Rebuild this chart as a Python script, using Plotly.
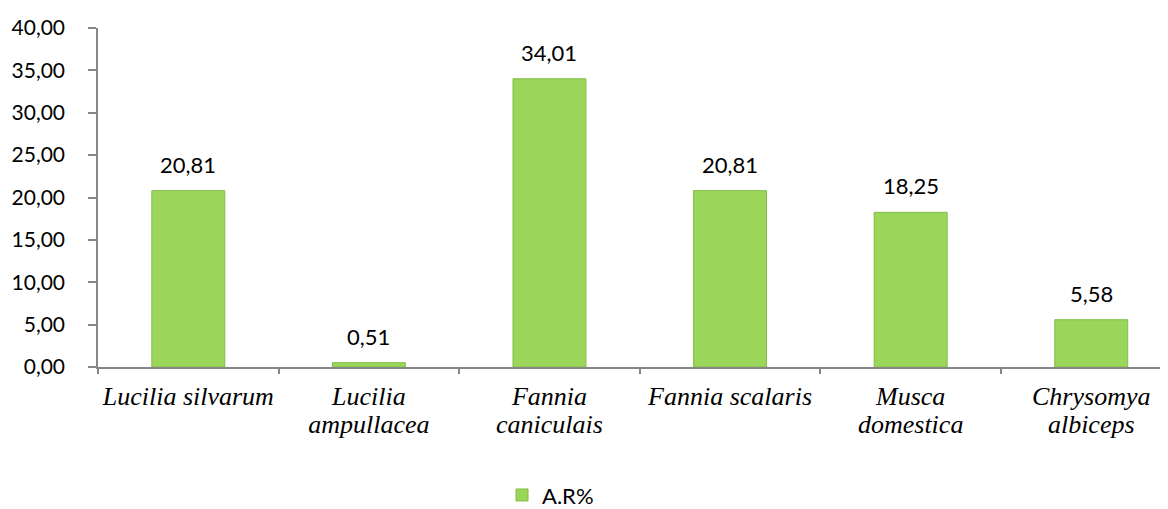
import plotly.graph_objects as go

categories = ["Lucilia silvarum", "Lucilia<br>ampullacea", "Fannia<br>caniculais",
              "Fannia scalaris", "Musca<br>domestica", "Chrysomya<br>albiceps"]
values = [20.81, 0.51, 34.01, 20.81, 18.25, 5.58]
series_name = "A.R%"
y_ticks = [0, 5, 10, 15, 20, 25, 30, 35, 40]

# display labels: bigger glyphs, tighter line spacing (line spacing follows base font size)
tick_text = ["<br>".join(f"<span style='font-size:26px'>{part}</span>" for part in c.split("<br>"))
             for c in categories]

fig = go.Figure()
fig.add_trace(go.Bar(
    x=categories, y=values, name=series_name,
    marker=dict(color="#9bd65b", line=dict(color="#82bd46", width=1)),
    width=0.404, showlegend=True,
))

for c, v in zip(categories, values):
    fig.add_annotation(x=c, y=v, text=f"{v:.2f}".replace(".", ","),
                       showarrow=False, yanchor="bottom", yshift=11,
                       font=dict(family="Lato", size=22, color="#000000"))

fig.update_layout(
    width=1160, height=501, autosize=False,
    margin=dict(l=90, r=0, t=20, b=142, autoexpand=False),
    paper_bgcolor="white", plot_bgcolor="white",
    separators=", ",
    legend=dict(orientation="h", x=0.3776, y=-0.44, xanchor="left", yanchor="bottom",
                font=dict(family="Lato", size=22, color="#000000"),
                itemwidth=30),
    showlegend=True,
)
fig.update_xaxes(
    range=[-0.5, 5.425], showline=True, linecolor="#868686", linewidth=1.5,
    tickmode="array", tickvals=categories, ticktext=tick_text, tickangle=0,
    ticks="outside", tickson="boundaries", ticklen=5, tickcolor="#868686", tickwidth=1.5,
    showgrid=False, zeroline=False, ticklabelstandoff=10,
    tickfont=dict(family="Liberation Serif", size=21.5, color="#000000", style="italic"),
)
fig.update_yaxes(
    range=[0, 40], tickvals=y_ticks, tickformat=".2f",
    showline=True, linecolor="#868686", linewidth=1.5,
    ticks="outside", ticklen=8, tickcolor="#868686", tickwidth=1.5,
    showgrid=False, zeroline=False, ticklabelstandoff=19,
    tickfont=dict(family="Lato", size=21, color="#000000"),
)

fig.write_html("out.html")
